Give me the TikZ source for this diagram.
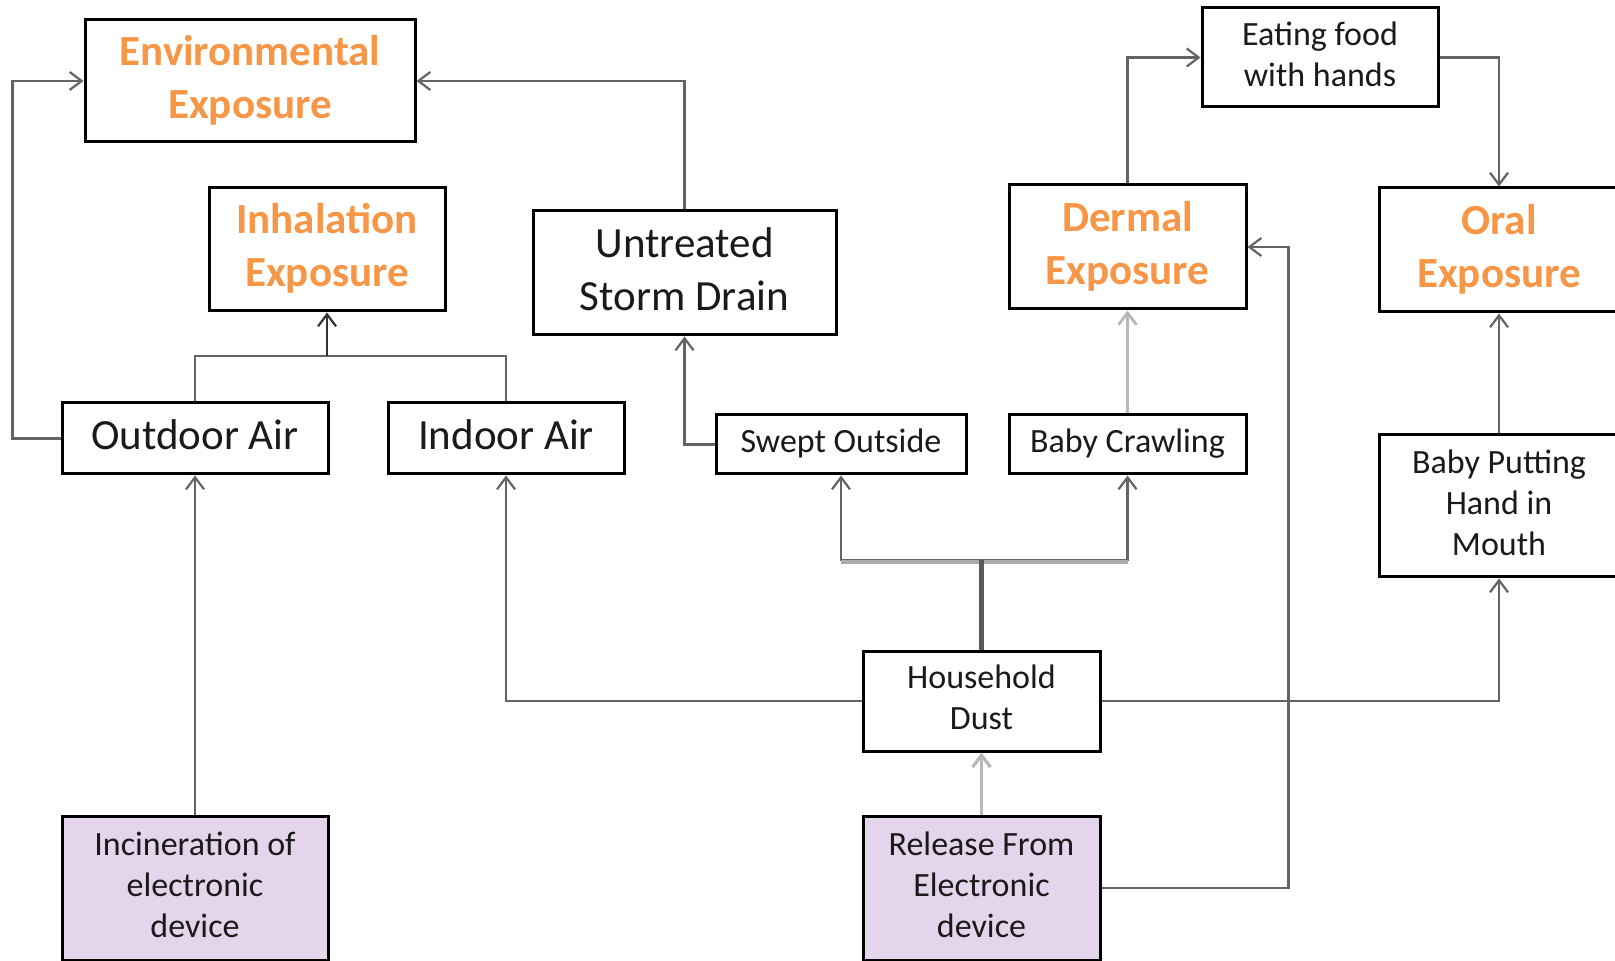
\documentclass[tikz,border=0pt]{standalone}
\usepackage{fontspec}
\setmainfont{Carlito}
\usetikzlibrary{arrows.meta}
\definecolor{orangeC}{HTML}{F79646}
\definecolor{purpC}{HTML}{E5D5EC}
\definecolor{lineC}{HTML}{646464}
\definecolor{lightC}{HTML}{B8B8B8}
\definecolor{branchC}{HTML}{ABABAB}
\definecolor{stemC}{HTML}{5A5A5A}
\definecolor{textC}{HTML}{1A1A1A}
\begin{document}
\begin{tikzpicture}[x=0.5pt,y=-0.5pt,
 box/.style={draw=black,line width=1.5pt,fill=white,inner sep=0pt,align=center,text=textC},
 bigf/.style={font=\fontsize{21.5}{26.5}\selectfont},
 smallf/.style={font=\fontsize{17}{20.5}\selectfont},
 expo/.style={box,font=\fontsize{21.5}{26.5}\selectfont\bfseries,text=orangeC},
 src/.style={box,smallf,fill=purpC},
 conn/.style={draw=lineC,line width=1.1pt,-{Straight Barb[length=6pt,width=9pt]}},
 plain/.style={draw=lineC,line width=1.1pt},
 stemline/.style={draw=stemC,line width=2.6pt},
 branchline/.style={draw=branchC,line width=2.2pt},
]
\useasboundingbox (0,0) rectangle (1615,961);

\node[expo,minimum width=165pt,minimum height=61pt] (env) at (250,81) {\strut Environmental\\Exposure\strut};
\node[expo,minimum width=118pt,minimum height=61.5pt] (inh) at (327,249.5) {\strut Inhalation\\Exposure\strut};
\node[box,bigf,minimum width=151.5pt,minimum height=62pt] (storm) at (684.5,273) {\strut Untreated\\Storm Drain\strut};
\node[expo,minimum width=118.5pt,minimum height=62pt] (derm) at (1127.5,247) {\strut Dermal\\Exposure\strut};
\node[box,smallf,minimum width=118pt,minimum height=49.5pt] (eat) at (1320,57.5) {\strut Eating food\\with hands\strut};
\node[expo,minimum width=120pt,minimum height=62pt] (oral) at (1499,250) {\strut Oral\\Exposure\strut};
\node[box,bigf,minimum width=133pt,minimum height=35.5pt] (outdoor) at (195,438.5) {\strut Outdoor Air\strut};
\node[box,bigf,minimum width=118pt,minimum height=35.5pt] (indoor) at (506,438.5) {\strut Indoor Air\strut};
\node[box,smallf,minimum width=125pt,minimum height=29.5pt] (swept) at (841,444.5) {\strut Swept Outside\strut};
\node[box,smallf,minimum width=118.5pt,minimum height=29.5pt] (crawl) at (1127.5,444.5) {\strut Baby Crawling\strut};
\node[box,smallf,minimum width=120pt,minimum height=71pt] (putting) at (1499,506) {\strut Baby Putting\\Hand in\\Mouth\strut};
\node[box,smallf,minimum width=118.5pt,minimum height=50pt] (dust) at (981.5,701) {\strut Household\\Dust\strut};
\node[src,minimum width=133pt,minimum height=72pt] (incin) at (195,888) {\strut Incineration of\\electronic\\device\strut};
\node[src,minimum width=118.5pt,minimum height=72pt] (release) at (981.5,888) {\strut Release From\\Electronic\\device\strut};

% connectors
\draw[conn] (outdoor.west) -- ++(-48,0) |- (env.west);
\draw[conn] (storm.north) |- (env.east);
\coordinate (jin) at (327,356);
\draw[plain] (outdoor.north) |- (jin) -| (indoor.north);
\draw[conn,draw=black!80] (jin) -- (inh.south);
\draw[conn] (incin.north) -- (outdoor.south);
\draw[conn] (dust.west) -| (indoor.south);
\coordinate (jdust) at (981.5,560);
\draw[conn] (jdust) -| (swept.south);
\draw[conn] (jdust) -| (crawl.south);
\draw[branchline] ([yshift=-1pt]jdust -| swept.south) -- ([yshift=-1pt]jdust -| crawl.south);
\draw[stemline] (dust.north) -- (jdust);
\draw[conn] (swept.west) -| (storm.south);
\draw[conn,draw=lightC,line width=1.4pt] (crawl.north) -- (derm.south);
\draw[conn] (derm.north) |- (eat.west);
\draw[conn] (eat.east) -| (oral.north);
\draw[conn] (putting.north) -- (oral.south);
\draw[conn] (dust.east) -| (putting.south);
\draw[conn] (release.east) -- ++(187,0) |- (derm.east);
\draw[conn,draw=lightC,line width=1.6pt] (release.north) -- (dust.south);
\end{tikzpicture}
\end{document}
